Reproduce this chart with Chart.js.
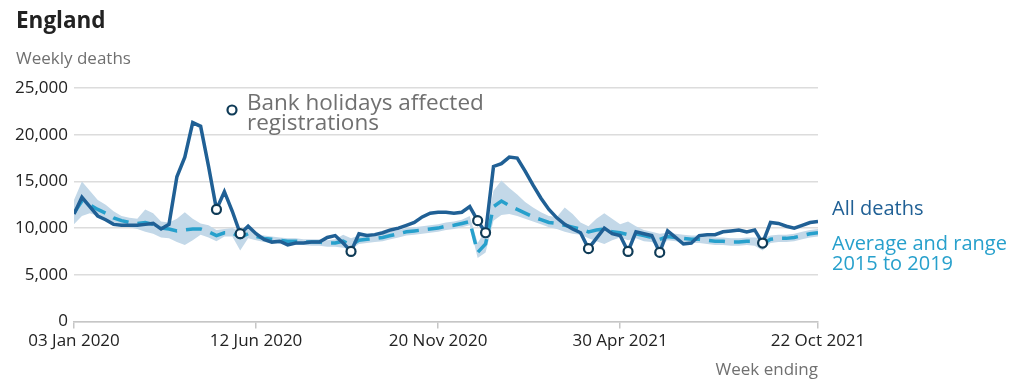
<!DOCTYPE html>
<html>
<head>
<meta charset="utf-8">
<script src="https://cdn.jsdelivr.net/npm/chart.js@4.4.0/dist/chart.umd.min.js"></script>
<style>
  html, body { margin: 0; padding: 0; background: #fff; }
  #wrap { position: relative; width: 1024px; height: 383px; }
</style>
</head>
<body>
<div id="wrap"><canvas id="deathsChart" width="1024" height="383"></canvas></div>
<script>
// Week index 0 = week ending 03 Jan 2020, 94 = week ending 22 Oct 2021
const tickWeeks = [0, 23, 46, 69, 94];
const tickLabels = ['03 Jan 2020', '12 Jun 2020', '20 Nov 2020', '30 Apr 2021', '22 Oct 2021'];

const allDeaths = [
  11500, 13300, 12300, 11300, 10900, 10400, 10300, 10300, 10300, 10400,
  10500, 9900, 10400, 15500, 17600, 21300, 20900, 16600, 12000, 13900,
  11800, 9400, 10200, 9400, 8800, 8500, 8600, 8200, 8400, 8400,
  8500, 8500, 9000, 9200, 8400, 7500, 9400, 9200, 9300, 9500,
  9800, 10000, 10300, 10600, 11200, 11600, 11700, 11700, 11600, 11700,
  12300, 10800, 9500, 16600, 16900, 17600, 17500, 16100, 14600, 13200,
  12000, 11100, 10400, 9900, 9500, 7800, 8900, 10000, 9400, 9200,
  7500, 9600, 9400, 9200, 7400, 9700, 9000, 8300, 8400, 9200,
  9300, 9300, 9600, 9700, 9800, 9600, 9800, 8400, 10600, 10500,
  10200, 10000, 10300, 10600, 10700
];

const average = [
  11600, 12900, 12500, 12000, 11600, 11100, 10800, 10600, 10500, 10600,
  10400, 10000, 9900, 9700, 9800, 9900, 9900, 9600, 9200, 9500,
  9500, 9000, 9400, 9100, 8900, 8800, 8700, 8600, 8600, 8500,
  8500, 8500, 8400, 8400, 8600, 8200, 8700, 8800, 8900, 9000,
  9200, 9400, 9600, 9700, 9800, 9900, 10000, 10200, 10300, 10500,
  10700, 7400, 8300, 12300, 12900, 12400, 12000, 11600, 11200, 10900,
  10600, 10500, 10300, 10100, 9900, 9600, 9800, 9900, 9600, 9500,
  9300, 9400, 9200, 9000, 8800, 9100, 9000, 8900, 8800, 8800,
  8700, 8600, 8600, 8500, 8500, 8600, 8600, 8300, 8800, 8900,
  8900, 9000, 9200, 9400, 9500
];

const rangeMin = [
  10400, 11300, 11600, 11300, 11000, 10600, 10300, 10100, 9900, 9600,
  9400, 9000, 8900, 8500, 8200, 8700, 9300, 9000, 8600, 9100,
  9100, 7600, 8900, 8700, 8500, 8400, 8300, 8200, 8200, 8200,
  8100, 8100, 8000, 8000, 7900, 7700, 8300, 8400, 8500, 8600,
  8800, 9000, 9200, 9300, 9400, 9500, 9600, 9800, 9900, 10100,
  10300, 6800, 7400, 10800, 11400, 11500, 11300, 11000, 10700, 10400,
  10100, 9900, 9600, 9400, 9300, 8900, 8600, 8300, 8700, 9000,
  8700, 8900, 8600, 8500, 8000, 8700, 8600, 8500, 8400, 8400,
  8300, 8200, 8200, 8100, 8100, 8200, 8100, 7600, 8400, 8500,
  8500, 8600, 8800, 9000, 9100
];

const rangeMax = [
  13000, 15000, 14000, 13000, 12500, 11800, 11300, 11100, 11000, 12000,
  11600, 10700, 10600, 11000, 11700, 11000, 10500, 10300, 9800, 9900,
  10000, 9700, 9900, 9400, 9200, 9100, 9000, 8900, 8900, 8800,
  8800, 8800, 8700, 8800, 9300, 8900, 9200, 9200, 9300, 9400,
  9600, 9800, 10000, 10100, 10200, 10300, 10400, 10600, 10700, 10900,
  11300, 8400, 9800, 14000, 15100, 14300, 13600, 12800, 12200, 11700,
  11300, 11200, 12200, 11500, 10600, 10200, 11000, 11600, 11000, 10400,
  10700, 10200, 9800, 9600, 9400, 9500, 9400, 9300, 9200, 9200,
  9100, 9000, 9000, 8900, 8900, 9000, 9000, 8900, 9200, 9300,
  9300, 9400, 9600, 9800, 9900
];

// weeks where bank holidays affected registrations
const bankHolidayWeeks = [18, 21, 35, 51, 52, 65, 70, 74, 87];

const darkBlue = '#206095';
const lightBlue = '#27a0cc';
const markerBlue = '#0f3b57';
const fontFamily = "'Open Sans', 'DejaVu Sans', sans-serif";

const toPoints = arr => arr.map((v, i) => ({ x: i, y: v }));

// Extra labels drawn on the canvas
const textPlugin = {
  id: 'textPlugin',
  afterDraw(chart) {
    const ctx = chart.ctx;
    ctx.save();
    ctx.textBaseline = 'alphabetic';
    ctx.textAlign = 'left';

    ctx.fillStyle = '#222';
    ctx.font = 'bold 22.5px ' + fontFamily;
    ctx.fillText('England', 16, 28);

    ctx.fillStyle = '#707070';
    ctx.font = '17px ' + fontFamily;
    ctx.fillText('Weekly deaths', 16, 64);

    // bank holiday key
    ctx.beginPath();
    ctx.arc(232, 110, 4.5, 0, Math.PI * 2);
    ctx.fillStyle = '#fff';
    ctx.fill();
    ctx.lineWidth = 2.2;
    ctx.strokeStyle = markerBlue;
    ctx.stroke();
    ctx.fillStyle = '#707070';
    ctx.font = '22.5px ' + fontFamily;
    ctx.fillText('Bank holidays affected', 247, 110);
    ctx.fillText('registrations', 247, 130);

    // series labels
    ctx.font = '20px ' + fontFamily;
    ctx.fillStyle = darkBlue;
    ctx.fillText('All deaths', 832, 215);
    ctx.fillStyle = lightBlue;
    ctx.fillText('Average and range', 832, 250);
    ctx.fillText('2015 to 2019', 832, 270);

    ctx.textAlign = 'right';
    ctx.fillStyle = '#707070';
    ctx.font = '17px ' + fontFamily;
    ctx.fillText('Week ending', 818, 375);
    ctx.restore();
  }
};

new Chart(document.getElementById('deathsChart'), {
  type: 'line',
  data: {
    datasets: [
      {
        label: 'Bank holidays',
        data: bankHolidayWeeks.map(i => ({ x: i, y: allDeaths[i] })),
        showLine: false,
        pointRadius: 4.5,
        pointBorderWidth: 2.2,
        pointBackgroundColor: '#fff',
        pointBorderColor: markerBlue,
        order: 0
      },
      {
        label: 'All deaths',
        data: toPoints(allDeaths),
        borderColor: darkBlue,
        borderWidth: 3.5,
        pointRadius: 0,
        tension: 0,
        order: 1
      },
      {
        label: 'Average 2015 to 2019',
        data: toPoints(average),
        borderColor: lightBlue,
        borderWidth: 3.5,
        borderDash: [16, 9],
        pointRadius: 0,
        order: 2
      },
      {
        label: 'Range max',
        data: toPoints(rangeMax),
        borderWidth: 0,
        borderColor: 'rgba(0,0,0,0)',
        backgroundColor: '#c3d8e8',
        fill: '+1',
        pointRadius: 0,
        order: 3
      },
      {
        label: 'Range min',
        data: toPoints(rangeMin),
        borderWidth: 0,
        borderColor: 'rgba(0,0,0,0)',
        pointRadius: 0,
        fill: false,
        order: 4
      }
    ]
  },
  options: {
    responsive: false,
    animation: false,
    layout: { padding: { top: 88, right: 206, bottom: 0, left: 0 } },
    plugins: {
      legend: { display: false },
      tooltip: { enabled: false }
    },
    scales: {
      x: {
        type: 'linear',
        min: 0,
        max: 94,
        afterBuildTicks: function(scale) {
          scale.ticks = tickWeeks.map(v => ({ value: v }));
        },
        afterFit: function(scale) {
          scale.height = 61.5;
        },
        border: { display: true, color: '#c6c6c6', width: 1.5 },
        grid: {
          drawOnChartArea: false,
          drawTicks: true,
          tickLength: 7,
          color: '#c6c6c6',
          lineWidth: 1.5
        },
        ticks: {
          autoSkip: false,
          maxRotation: 0,
          padding: 2,
          color: '#222',
          font: { family: fontFamily, size: 17 },
          callback: function(value) {
            const k = tickWeeks.indexOf(value);
            return k >= 0 ? tickLabels[k] : '';
          }
        }
      },
      y: {
        min: 0,
        max: 25000,
        afterFit: function(scale) {
          scale.width = 74;
        },
        border: { display: false },
        grid: {
          color: '#dcdcdc',
          lineWidth: 1.5,
          drawTicks: false
        },
        ticks: {
          stepSize: 5000,
          padding: 6,
          color: '#222',
          font: { family: fontFamily, size: 17 },
          callback: function(value) {
            return value.toLocaleString('en-GB');
          }
        }
      }
    }
  },
  plugins: [textPlugin]
});
</script>
</body>
</html>
